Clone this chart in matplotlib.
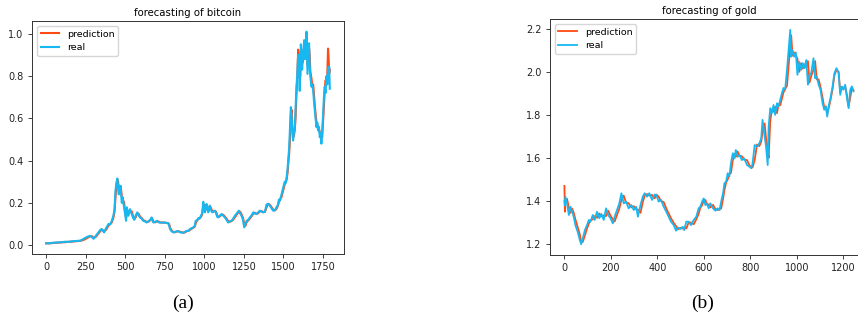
"""Forecasting of bitcoin / gold: prediction vs real"""
import matplotlib
matplotlib.use('Agg')
import matplotlib.pyplot as plt

# ============== DATA ==============
# bitcoin, sample index along the test period
btc_idx = [0, 20, 40, 60, 80, 100, 120, 140, 160, 180, 200, 215, 230, 246, 262, 278, 290, 300,
           315, 330, 342, 351, 366, 380, 394, 405, 415, 425, 432, 438, 444, 450, 455, 459, 464,
           471, 478, 484, 492, 499, 505, 510, 520, 530, 541, 550, 557, 566, 576, 585, 593, 604,
           614, 625, 636, 650, 660, 667, 672, 678, 690, 699, 710, 720, 735, 751, 765, 772, 778,
           783, 792, 804, 815, 825, 835, 850, 867, 878, 888, 900, 909, 920, 930, 940, 945, 955,
           962, 970, 979, 986, 993, 999, 1004, 1009, 1014, 1020, 1025, 1030, 1035, 1042, 1050,
           1058, 1067, 1075, 1080, 1088, 1098, 1109, 1118, 1130, 1140, 1151, 1160, 1172, 1182,
           1193, 1205, 1218, 1226, 1235, 1244, 1252, 1260, 1267, 1278, 1288, 1298, 1309, 1320,
           1330, 1340, 1351, 1362, 1372, 1383, 1393, 1403, 1414, 1424, 1435, 1446, 1456, 1465,
           1471, 1477, 1488, 1498, 1508, 1515, 1520, 1526, 1530, 1536, 1542, 1547, 1552, 1556,
           1561, 1566, 1572, 1577, 1582, 1587, 1593, 1598, 1603, 1607, 1610, 1614, 1618, 1624,
           1631, 1636, 1641, 1646, 1649, 1652, 1657, 1662, 1666, 1670, 1677, 1682, 1688, 1693,
           1698, 1703, 1709, 1714, 1719, 1724, 1730, 1735, 1740, 1745, 1751, 1756, 1761, 1766,
           1772, 1777, 1782, 1786, 1789, 1793]
btc_real = [0.008, 0.009, 0.011, 0.012, 0.013, 0.014, 0.016, 0.015, 0.018, 0.019, 0.020, 0.021,
            0.027, 0.033, 0.040, 0.044, 0.036, 0.030, 0.045, 0.060, 0.072, 0.076, 0.060, 0.082,
            0.100, 0.098, 0.115, 0.140, 0.170, 0.258, 0.295, 0.315, 0.270, 0.240, 0.282, 0.273,
            0.200, 0.226, 0.180, 0.147, 0.115, 0.179, 0.139, 0.170, 0.147, 0.128, 0.120, 0.140,
            0.155, 0.140, 0.131, 0.125, 0.115, 0.112, 0.107, 0.115, 0.122, 0.131, 0.115, 0.107,
            0.110, 0.115, 0.108, 0.107, 0.106, 0.107, 0.104, 0.103, 0.090, 0.076, 0.066, 0.060,
            0.062, 0.066, 0.065, 0.060, 0.058, 0.063, 0.068, 0.067, 0.076, 0.080, 0.084, 0.092,
            0.115, 0.118, 0.128, 0.125, 0.140, 0.150, 0.205, 0.175, 0.155, 0.180, 0.195, 0.170,
            0.155, 0.178, 0.187, 0.165, 0.155, 0.160, 0.163, 0.150, 0.135, 0.131, 0.140, 0.147,
            0.140, 0.131, 0.120, 0.107, 0.112, 0.115, 0.125, 0.139, 0.150, 0.163, 0.150, 0.139,
            0.120, 0.084, 0.100, 0.115, 0.120, 0.131, 0.140, 0.155, 0.150, 0.147, 0.155, 0.163,
            0.158, 0.155, 0.158, 0.192, 0.195, 0.187, 0.175, 0.163, 0.165, 0.179, 0.190, 0.215,
            0.210, 0.240, 0.270, 0.300, 0.295, 0.320, 0.360, 0.400, 0.460, 0.560, 0.653, 0.600,
            0.540, 0.495, 0.530, 0.558, 0.650, 0.748, 0.800, 0.900, 0.850, 0.730, 0.870, 0.950,
            0.900, 0.830, 0.900, 0.970, 0.880, 0.930, 1.010, 0.900, 0.810, 0.880, 0.955, 0.850,
            0.800, 0.750, 0.760, 0.730, 0.680, 0.638, 0.600, 0.558, 0.580, 0.543, 0.560, 0.510,
            0.530, 0.480, 0.540, 0.622, 0.700, 0.750, 0.720, 0.800, 0.760, 0.840, 0.780, 0.845,
            0.740]
btc_pred = [0.009, 0.008, 0.010, 0.011, 0.012, 0.013, 0.014, 0.016, 0.016, 0.018, 0.019, 0.020,
            0.023, 0.028, 0.035, 0.042, 0.042, 0.034, 0.040, 0.055, 0.066, 0.074, 0.066, 0.074,
            0.093, 0.100, 0.108, 0.130, 0.158, 0.225, 0.280, 0.310, 0.300, 0.255, 0.262, 0.280,
            0.230, 0.210, 0.205, 0.160, 0.128, 0.160, 0.160, 0.155, 0.160, 0.135, 0.124, 0.132,
            0.150, 0.148, 0.135, 0.128, 0.118, 0.114, 0.109, 0.112, 0.120, 0.128, 0.124, 0.110,
            0.108, 0.113, 0.112, 0.107, 0.107, 0.106, 0.105, 0.104, 0.097, 0.083, 0.070, 0.062,
            0.061, 0.064, 0.066, 0.062, 0.059, 0.060, 0.066, 0.068, 0.072, 0.078, 0.082, 0.088,
            0.104, 0.117, 0.124, 0.127, 0.134, 0.146, 0.180, 0.192, 0.164, 0.168, 0.190, 0.183,
            0.162, 0.167, 0.183, 0.176, 0.160, 0.158, 0.162, 0.157, 0.142, 0.133, 0.136, 0.144,
            0.144, 0.135, 0.125, 0.113, 0.110, 0.114, 0.120, 0.132, 0.145, 0.158, 0.158, 0.145,
            0.130, 0.100, 0.092, 0.108, 0.118, 0.126, 0.136, 0.148, 0.153, 0.148, 0.151, 0.160,
            0.161, 0.156, 0.157, 0.178, 0.196, 0.191, 0.180, 0.168, 0.164, 0.172, 0.186, 0.203,
            0.213, 0.228, 0.258, 0.288, 0.298, 0.310, 0.342, 0.382, 0.432, 0.515, 0.620, 0.640,
            0.565, 0.515, 0.515, 0.548, 0.610, 0.710, 0.780, 0.925, 0.880, 0.790, 0.800, 0.920,
            0.925, 0.860, 0.870, 0.945, 0.920, 0.905, 0.970, 0.950, 0.850, 0.845, 0.930, 0.900,
            0.820, 0.790, 0.755, 0.760, 0.710, 0.665, 0.620, 0.580, 0.570, 0.560, 0.550, 0.535,
            0.520, 0.505, 0.510, 0.590, 0.665, 0.730, 0.780, 0.770, 0.800, 0.930, 0.880, 0.810,
            0.830]

# gold
gold_idx = [0, 2, 4, 11, 19, 26, 33, 40, 47, 57, 66, 72, 79, 88, 97, 105, 112, 122, 130, 140,
            150, 159, 169, 179, 188, 198, 208, 216, 226, 236, 245, 255, 265, 276, 288, 298, 308,
            316, 327, 337, 345, 355, 365, 377, 388, 395, 405, 415, 427, 438, 448, 458, 470, 480,
            487, 498, 508, 515, 524, 534, 544, 556, 567, 577, 584, 592, 599, 606, 613, 620, 627,
            639, 649, 659, 667, 674, 682, 688, 695, 702, 709, 716, 724, 731, 737, 745, 753, 763,
            773, 785, 796, 804, 809, 818, 828, 838, 846, 852, 861, 867, 874, 878, 885, 892, 899,
            906, 914, 921, 928, 935, 942, 949, 957, 964, 971, 975, 981, 988, 995, 1002, 1010,
            1018, 1025, 1032, 1040, 1047, 1054, 1061, 1071, 1078, 1085, 1093, 1101, 1110, 1117,
            1124, 1130, 1136, 1144, 1153, 1161, 1170, 1179, 1186, 1193, 1200, 1207, 1215, 1222,
            1229, 1236, 1243]
gold_real = [1.400, 1.380, 1.420, 1.390, 1.335, 1.373, 1.350, 1.327, 1.288, 1.257, 1.219, 1.199,
             1.226, 1.265, 1.288, 1.312, 1.304, 1.335, 1.312, 1.350, 1.320, 1.340, 1.312, 1.366,
             1.335, 1.320, 1.296, 1.327, 1.358, 1.389, 1.436, 1.389, 1.397, 1.366, 1.381, 1.358,
             1.373, 1.327, 1.381, 1.420, 1.436, 1.420, 1.436, 1.405, 1.430, 1.428, 1.397, 1.405,
             1.373, 1.350, 1.327, 1.304, 1.288, 1.262, 1.277, 1.270, 1.280, 1.265, 1.304, 1.304,
             1.288, 1.312, 1.327, 1.366, 1.373, 1.397, 1.412, 1.381, 1.389, 1.366, 1.389, 1.366,
             1.355, 1.366, 1.358, 1.397, 1.436, 1.482, 1.490, 1.529, 1.513, 1.575, 1.622, 1.598,
             1.637, 1.606, 1.614, 1.590, 1.598, 1.567, 1.559, 1.552, 1.575, 1.660, 1.652, 1.668,
             1.690, 1.777, 1.699, 1.652, 1.567, 1.745, 1.831, 1.808, 1.846, 1.800, 1.854, 1.840,
             1.870, 1.900, 1.925, 1.917, 2.009, 2.100, 2.195, 2.070, 2.100, 2.070, 2.090, 1.986,
             2.046, 2.009, 2.040, 2.017, 2.055, 1.940, 1.986, 1.994, 2.063, 1.970, 1.978, 1.940,
             1.917, 1.854, 1.824, 1.840, 1.792, 1.840, 1.878, 1.932, 1.994, 2.017, 1.994, 1.893,
             1.932, 1.917, 1.940, 1.878, 1.831, 1.917, 1.932, 1.909]
gold_pred = [1.470, 1.350, 1.400, 1.410, 1.370, 1.345, 1.365, 1.345, 1.315, 1.278, 1.245, 1.212,
             1.210, 1.240, 1.272, 1.295, 1.310, 1.315, 1.330, 1.322, 1.342, 1.328, 1.333, 1.330,
             1.355, 1.332, 1.315, 1.305, 1.335, 1.365, 1.405, 1.425, 1.392, 1.390, 1.370, 1.376,
             1.362, 1.360, 1.345, 1.395, 1.425, 1.432, 1.425, 1.428, 1.412, 1.430, 1.420, 1.400,
             1.395, 1.365, 1.343, 1.320, 1.298, 1.283, 1.268, 1.275, 1.272, 1.278, 1.272, 1.300,
             1.300, 1.292, 1.315, 1.340, 1.368, 1.380, 1.402, 1.405, 1.384, 1.384, 1.370, 1.382,
             1.362, 1.358, 1.364, 1.365, 1.410, 1.450, 1.485, 1.500, 1.525, 1.530, 1.590, 1.618,
             1.605, 1.630, 1.608, 1.608, 1.592, 1.590, 1.564, 1.558, 1.556, 1.590, 1.662, 1.655,
             1.675, 1.720, 1.760, 1.690, 1.640, 1.600, 1.770, 1.825, 1.815, 1.838, 1.808, 1.850,
             1.845, 1.875, 1.905, 1.920, 1.935, 2.030, 2.120, 2.170, 2.075, 2.090, 2.078, 2.060,
             2.000, 2.040, 2.015, 2.035, 2.020, 2.050, 1.950, 1.980, 2.010, 2.050, 1.965, 1.965,
             1.930, 1.880, 1.835, 1.838, 1.805, 1.830, 1.868, 1.920, 1.985, 2.010, 2.000, 1.905,
             1.925, 1.920, 1.935, 1.890, 1.840, 1.880, 1.925, 1.915]
# ==================================

PRED_COLOR = '#ff4a12'
REAL_COLOR = '#17b8f2'

plt.rcParams['font.size'] = 7
plt.rcParams['axes.linewidth'] = 0.7
plt.rcParams['axes.edgecolor'] = '#333333'
plt.rcParams['xtick.major.size'] = 2.6
plt.rcParams['ytick.major.size'] = 2.6
plt.rcParams['xtick.major.width'] = 0.6
plt.rcParams['ytick.major.width'] = 0.6
plt.rcParams['xtick.color'] = '#222222'
plt.rcParams['ytick.color'] = '#222222'

fig = plt.figure(figsize=(8.58, 3.24), dpi=100)
ax_btc = fig.add_axes([0.0373, 0.216, 0.3636, 0.719])
ax_gold = fig.add_axes([0.641, 0.213, 0.3706, 0.728])

ax_btc.plot(btc_idx, btc_pred, color=PRED_COLOR, lw=1.5, label='prediction')
ax_btc.plot(btc_idx, btc_real, color=REAL_COLOR, lw=1.5, label='real')
ax_btc.set_title('forecasting of bitcoin', fontsize=7.3, pad=4)
ax_btc.set_xticks([0, 250, 500, 750, 1000, 1250, 1500, 1750])
ax_btc.set_yticks([0.0, 0.2, 0.4, 0.6, 0.8, 1.0])
ax_btc.legend(loc='upper left', fontsize=6.8, handlelength=2.0, borderpad=0.4)

ax_gold.plot(gold_idx, gold_pred, color=PRED_COLOR, lw=1.3, label='prediction')
ax_gold.plot(gold_idx, gold_real, color=REAL_COLOR, lw=1.3, label='real')
ax_gold.set_title('forecasting of gold', fontsize=7.3, pad=4)
ax_gold.set_xticks([0, 200, 400, 600, 800, 1000, 1200])
ax_gold.set_yticks([1.2, 1.4, 1.6, 1.8, 2.0, 2.2])
ax_gold.legend(loc='upper left', fontsize=6.8, handlelength=2.0, borderpad=0.4)

fig.text(183 / 858, 1 - 303 / 324, '(a)', ha='center', va='center',
         fontsize=14, family='Liberation Serif')
fig.text(703 / 858, 1 - 303 / 324, '(b)', ha='center', va='center',
         fontsize=14, family='Liberation Serif')

fig.savefig('out.png', dpi=100)
